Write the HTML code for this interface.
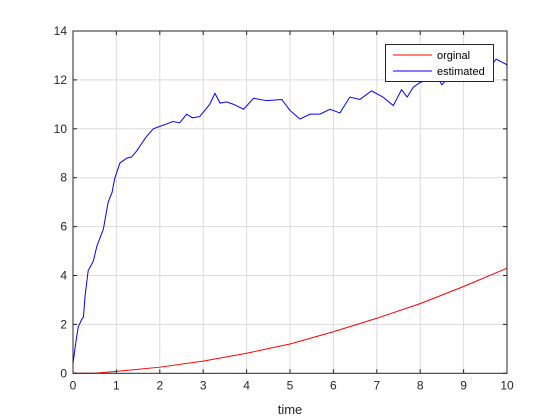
<!DOCTYPE html>
<html><head><meta charset="utf-8"><style>
body{margin:0;background:#fff;}
svg{display:block;font-family:"Liberation Sans",Arial,sans-serif;}
</style></head><body>
<svg id="chart" width="560" height="420" viewBox="0 0 560 420">
<rect x="0" y="0" width="560" height="420" fill="#fff"/>
<g id="grid"></g>
<g id="series"></g>
<rect x="73" y="31" width="434" height="342.3" fill="none" stroke="#262626" stroke-width="1"/>
<g id="ticks"></g>
<text x="290" y="414" font-size="13" fill="#262626" text-anchor="middle">time</text>
<g>
<rect x="385.5" y="44.5" width="108" height="37" fill="#fff" stroke="#262626"/>
<line x1="393" y1="55" x2="432" y2="55" stroke="#ff0000"/>
<text x="437" y="59" font-size="11" fill="#000">orginal</text>
<line x1="393" y1="71" x2="432" y2="71" stroke="#0000ff"/>
<text x="437" y="75" font-size="11" fill="#000">estimated</text>
</g>
</svg>
<script>
const xTicks=[0,1,2,3,4,5,6,7,8,9,10];
const yTicks=[0,2,4,6,8,10,12,14];
const origX=[0,0.5,1,2,3,4,5,6,7,8,9,10];
const origY=[0,0,0.08,0.25,0.5,0.82,1.2,1.7,2.25,2.85,3.55,4.3];
const estX=[0,0.06,0.12,0.2,0.24,0.28,0.35,0.47,0.55,0.7,0.81,0.9,0.96,1.08,1.24,1.35,1.47,1.62,1.7,1.85,2.0,2.16,2.3,2.46,2.62,2.75,2.92,3.15,3.27,3.39,3.54,3.7,3.93,4.16,4.46,4.81,5.0,5.23,5.46,5.69,5.92,6.15,6.38,6.61,6.88,7.14,7.38,7.57,7.7,7.84,8.0,8.2,8.4,8.5,8.7,8.9,9.2,9.45,9.6,9.75,9.97,10];
const estY=[0.4,1.2,1.9,2.2,2.3,3.2,4.2,4.6,5.2,5.9,7.0,7.4,7.96,8.6,8.8,8.85,9.1,9.5,9.7,10.0,10.1,10.2,10.3,10.25,10.6,10.45,10.5,11.0,11.45,11.05,11.1,11.0,10.8,11.25,11.15,11.2,10.75,10.4,10.6,10.6,10.8,10.65,11.3,11.2,11.55,11.3,10.95,11.6,11.3,11.7,11.9,12.0,12.1,11.8,12.2,12.4,12.5,12.6,12.5,12.85,12.65,12.6];
const L=73,R=507,T=31,B=373.3;
const sx=v=>L+(v-0)/(10-0)*(R-L);
const sy=v=>B-(v-0)/(14-0)*(B-T);
const NS='http://www.w3.org/2000/svg';
const grid=document.getElementById('grid'),ticks=document.getElementById('ticks'),ser=document.getElementById('series');
function mk(tag,attrs,parent){const e=document.createElementNS(NS,tag);for(const k in attrs)e.setAttribute(k,attrs[k]);parent.appendChild(e);return e;}
xTicks.forEach(t=>{const x=sx(t);
 if(t>0&&t<10){const g=mk('line',{x1:x,y1:T,x2:x,y2:B,stroke:'#dcdcdc','stroke-width':1},grid);
 
 }
 const a=mk('line',{x1:x,y1:B,x2:x,y2:B-4,stroke:'#262626'},ticks);
 
 
 mk('line',{x1:x,y1:T,x2:x,y2:T+4,stroke:'#262626'},ticks);
 const l=mk('text',{x:x,y:B+16,'font-size':12,fill:'#262626','text-anchor':'middle'},ticks);l.textContent=t;
 
 
});
yTicks.forEach(t=>{const y=sy(t);
 if(t>0&&t<14){const g=mk('line',{x1:L,y1:y,x2:R,y2:y,stroke:'#dcdcdc','stroke-width':1},grid);
 
 }
 const a=mk('line',{x1:L,y1:y,x2:L+4,y2:y,stroke:'#262626'},ticks);
 
 
 mk('line',{x1:R,y1:y,x2:R-4,y2:y,stroke:'#262626'},ticks);
 const l=mk('text',{x:L-6,y:y+4,'font-size':12,fill:'#262626','text-anchor':'end'},ticks);l.textContent=t;
 
 
});
function line(xs,ys,color,name){const d=xs.map((x,i)=>(i?'L':'M')+sx(x).toFixed(2)+' '+sy(ys[i]).toFixed(2)).join(' ');
 const p=mk('path',{d:d,fill:'none',stroke:color,'stroke-width':1},ser);
 
 }
line(origX,origY,'#ff0000','orginal-line');
line(estX,estY,'#0000ff','estimated-line');
</script>
</body></html>
